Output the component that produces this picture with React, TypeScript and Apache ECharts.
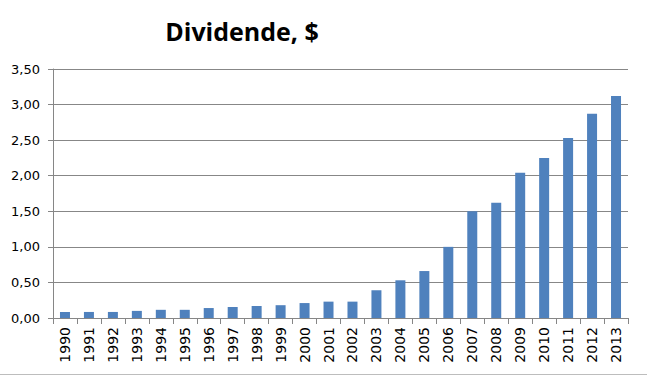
import React, { useEffect, useRef } from "react";
import * as echarts from "echarts";

const years = ["1990","1991","1992","1993","1994","1995","1996","1997","1998","1999","2000","2001","2002","2003","2004","2005","2006","2007","2008","2009","2010","2011","2012","2013"];
const dividends = [0.085,0.085,0.085,0.1,0.115,0.115,0.14,0.155,0.17,0.18,0.21,0.23,0.23,0.39,0.53,0.66,1.0,1.5,1.62,2.04,2.25,2.53,2.87,3.12];
const titleText = "Dividende, $";

export default function App() {
  const ref = useRef<HTMLDivElement>(null);
  useEffect(() => {
    const chart = echarts.init(ref.current!, null, { renderer: "svg" });
    chart.setOption({
      animation: false,
      backgroundColor: "#fff",
      title: {
        text: titleText,
        left: 237,
        top: 13,
        textAlign: "center",
        textStyle: { fontFamily: "Open Sans", fontWeight: "bold", fontSize: 25, color: "#000" },
      },
      grid: { left: 53, right: 19, top: 69, bottom: 58 },
      xAxis: {
        type: "category",
        data: years,
        axisLine: { lineStyle: { color: "#868686", width: 1 } },
        axisTick: { show: true, length: 6, lineStyle: { color: "#868686" }, alignWithLabel: false },
        axisLabel: {
          rotate: 90,
          interval: 0,
          fontFamily: "DejaVu Sans",
          fontSize: 14,
          color: "#000",
          margin: 9,
        },
      },
      yAxis: {
        type: "value",
        min: 0,
        max: 3.5,
        interval: 0.5,
        axisLine: { show: true, lineStyle: { color: "#868686", width: 1 } },
        axisTick: { show: true, length: 5, lineStyle: { color: "#868686" } },
        splitLine: { lineStyle: { color: "#878787", width: 1 } },
        axisLabel: {
          fontFamily: "DejaVu Sans",
          fontSize: 13,
          color: "#000",
          margin: 13,
          formatter: (v: number) => v.toFixed(2).replace(".", ","),
        },
      },
      series: [
        {
          type: "bar",
          data: dividends,
          barWidth: 10,
          itemStyle: { color: "#4F81BD" },
        },
      ],
      graphic: [
        {
          type: "line",
          shape: { x1: 0, y1: 374.5, x2: 647, y2: 374.5 },
          style: { stroke: "#bdbdbd", lineWidth: 1 },
        },
      ],
    });
    return () => chart.dispose();
  }, []);
  return <div ref={ref} style={{ width: 647, height: 376, position: "absolute", left: 0, top: 0 }} />;
}
